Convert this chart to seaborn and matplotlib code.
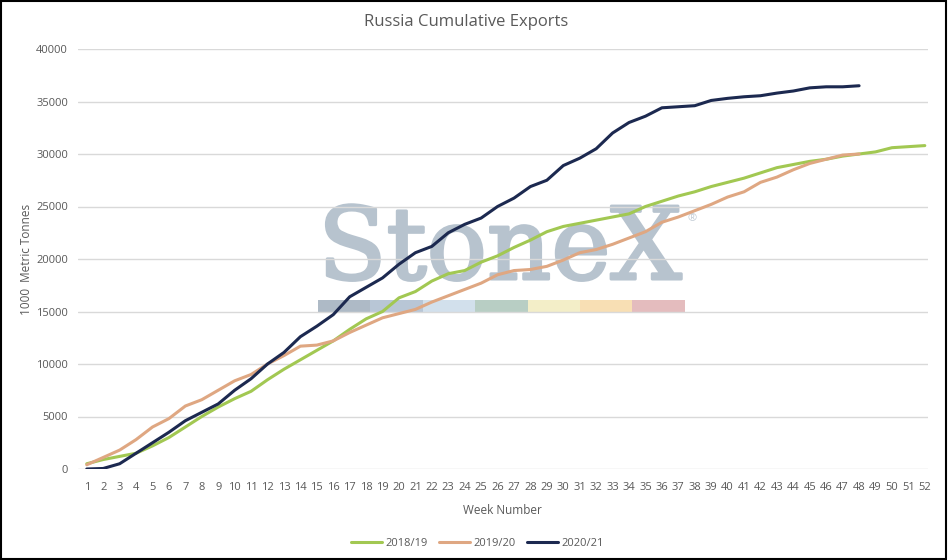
import numpy as np
import pandas as pd
import matplotlib
matplotlib.use("Agg")
import matplotlib.pyplot as plt
import matplotlib.patheffects as pe
import seaborn as sns
from matplotlib.patches import Rectangle

WEEKS = list(range(1, 53))

EXP_1819 = [500, 900, 1200, 1500, 2200, 3000, 4000, 5000, 5900, 6700,
            7400, 8500, 9500, 10400, 11300, 12200, 13300, 14300, 15000, 16300,
            16900, 17900, 18600, 18900, 19700, 20300, 21100, 21800, 22600, 23100,
            23400, 23700, 24000, 24300, 25000, 25500, 26000, 26400, 26900, 27300,
            27700, 28200, 28700, 29000, 29300, 29500, 29800, 30000, 30200, 30600,
            30700, 30800]
EXP_1920 = [400, 1100, 1800, 2800, 4000, 4800, 6000, 6600, 7500, 8400,
            9000, 10000, 10800, 11700, 11800, 12200, 13000, 13700, 14400, 14800,
            15200, 15900, 16500, 17100, 17700, 18500, 18900, 19000, 19300, 19900,
            20600, 20900, 21400, 22000, 22600, 23500, 24000, 24600, 25200, 25900,
            26400, 27300, 27800, 28500, 29100, 29500, 29900, 30000]
EXP_2021 = [0, 50, 500, 1500, 2500, 3500, 4600, 5400, 6200, 7500,
            8600, 10000, 11100, 12600, 13600, 14700, 16400, 17300, 18200, 19500,
            20600, 21200, 22500, 23300, 23900, 25000, 25800, 26900, 27500, 28900,
            29600, 30500, 32000, 33000, 33600, 34400, 34500, 34600, 35100, 35300,
            35450, 35550, 35800, 36000, 36300, 36400, 36400, 36500]

SEASONS = ["2018/19", "2019/20", "2020/21"]
COLORS = ["#a2c852", "#dfa782", "#1c2950"]

WATERMARK_COLORS = ["#aebac6", "#b8c6d6", "#d2e0ec", "#b8cec4",
                    "#f3eec8", "#f8dfb4", "#e4bcbe"]

rows = []
for season, vals in zip(SEASONS, [EXP_1819, EXP_1920, EXP_2021]):
    for w, v in zip(WEEKS, vals):
        rows.append({"week": w, "exports": v, "season": season})
df = pd.DataFrame(rows)

sns.set_style("white")
plt.rcParams["font.family"] = ["Open Sans", "DejaVu Sans"]
TXT = "#595959"

fig = plt.figure(figsize=(9.48, 5.6), dpi=100)
ax = fig.add_axes([0.082, 0.1625, 0.897, 0.75])
ax.set_zorder(2)
ax.patch.set_alpha(0)

# watermark (behind the axes)
WM = "#b7c3ce"
fig.text(0.5274, 1 - 279 / 560, "StoneX", fontsize=72, family="DejaVu Serif",
         color=WM, ha="center", va="baseline", zorder=-5,
         path_effects=[pe.withStroke(linewidth=2.2, foreground=WM)])
fig.text(0.7255, 1 - 219 / 560, "®", fontsize=8, color="#c3ccd5",
         ha="left", va="center", zorder=-5)
seg_w = 52.4 / 948
for i, c in enumerate(WATERMARK_COLORS):
    fig.patches.append(Rectangle((318 / 948 + i * seg_w, 1 - 313 / 560), seg_w, 13 / 560,
                                 transform=fig.transFigure, facecolor=c,
                                 edgecolor="none", zorder=-5))

sns.lineplot(data=df, x="week", y="exports", hue="season", palette=COLORS,
             linewidth=2.2, ax=ax, legend=True)

ax.set_xlim(0.45, 52.2)
ax.set_ylim(0, 40000)
ax.set_xticks(WEEKS)
ax.set_xticklabels([str(w) for w in WEEKS])
ax.set_yticks(np.arange(0, 40001, 5000))
ax.yaxis.grid(True, color="#d9d9d9", linewidth=1)
ax.xaxis.grid(False)
for s in ax.spines.values():
    s.set_visible(False)
ax.tick_params(axis="both", length=0, labelsize=8, labelcolor=TXT)
ax.tick_params(axis="x", pad=9)
ax.tick_params(axis="y", pad=7)

fig.text(466 / 948, 1 - 22 / 560, "Russia Cumulative Exports", fontsize=12,
         color=TXT, ha="center", va="center")
ax.set_xlabel("Week Number", fontsize=8.5, color=TXT, labelpad=8)
ax.set_ylabel("1000  Metric Tonnes", fontsize=8.5, color=TXT, labelpad=2)

ax.legend(loc="upper center", bbox_to_anchor=(0.47, -0.14), ncol=3, frameon=False,
          fontsize=8, handlelength=2.8, columnspacing=1.0, handletextpad=0.3,
          labelcolor=TXT)

fig.patches.append(Rectangle((0.001, 0.002), 0.997, 0.996, transform=fig.transFigure,
                             facecolor="none", edgecolor="black", linewidth=1.5))

fig.savefig("out.png", dpi=100)
